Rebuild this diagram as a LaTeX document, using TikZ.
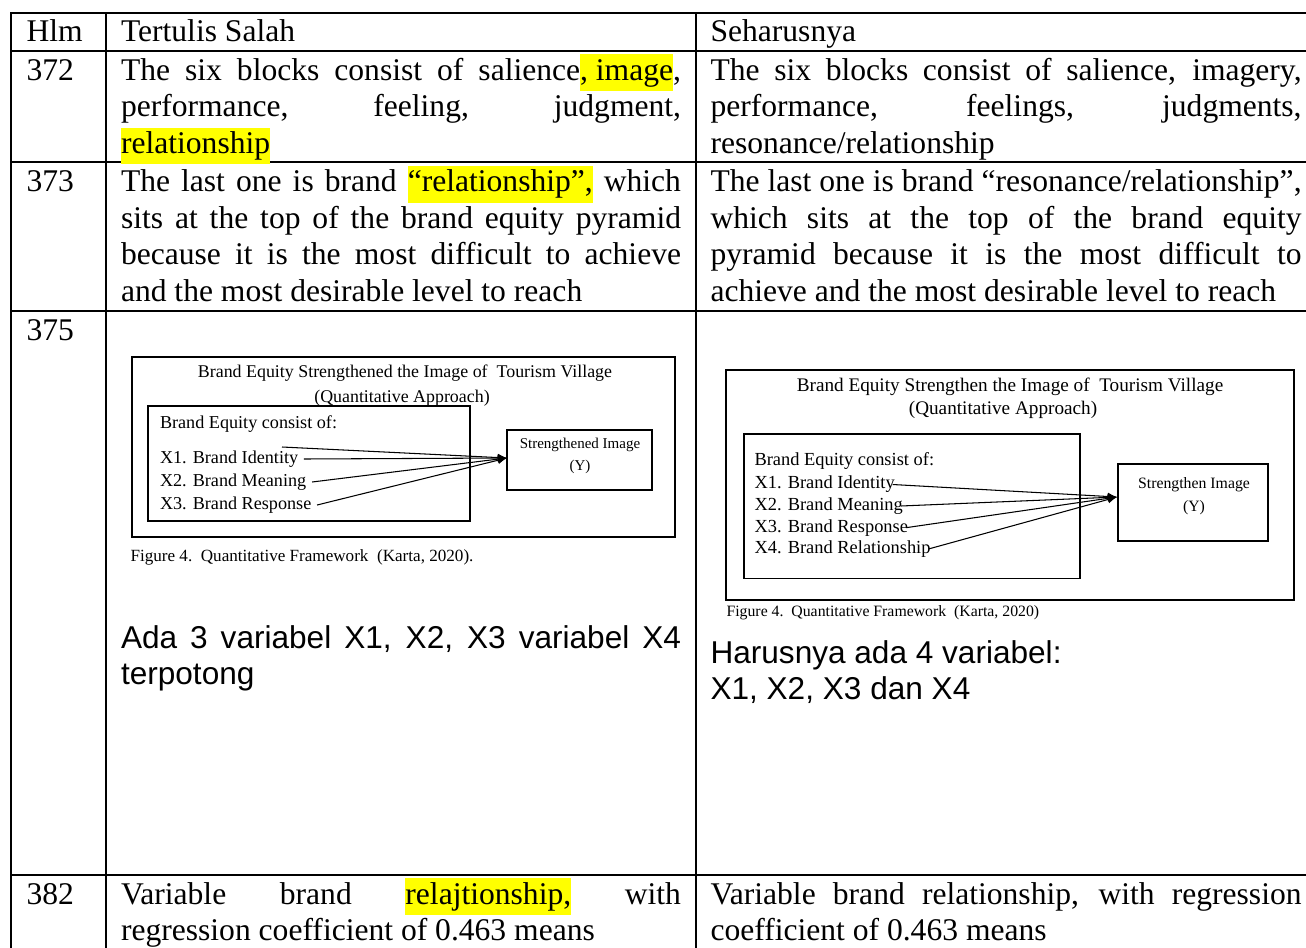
\documentclass[tikz,border=0pt]{standalone}
\usepackage{fontspec}
\setmainfont{Liberation Serif}
\setsansfont{Liberation Sans}
\usetikzlibrary{arrows.meta,positioning}

\definecolor{marker}{RGB}{255,255,0}
\newcommand{\hlt}[1]{{\setlength{\fboxsep}{0pt}\colorbox{marker}{\strut#1}}}
\hyphenpenalty=10000
\exhyphenpenalty=10000

\tikzset{
  rule/.style={line width=0.8pt, line cap=rect},
  cell/.style={anchor=base west, inner sep=0pt, font=\fontsize{12}{13.9}\selectfont},
  leftcol/.style={cell, text width=212.8pt, align=justify},
  rightcol/.style={cell, text width=224.6pt, align=justify},
  boxline/.style={line width=0.75pt},
  figtxt/.style={inner sep=0pt},
  link/.style={line width=0.4pt, -{Latex[length=3.5pt,width=3pt]}},
}

\begin{document}
\begin{tikzpicture}[x=0.38pt,y=-0.38pt]
\useasboundingbox (0,0) rectangle (1306,947);

% table rules
\foreach \y in {13,51,162,311,875}
  \draw[rule] (11,\y) -- (1306,\y);
\foreach \x in {11,106,696}
  \draw[rule] (\x,13) -- (\x,947);

% header
\node[cell] (hlm) at (26,41.7) {Hlm};
\node[cell] (salah) at (120.5,41.7) {Tertulis Salah};
\node[cell] (benar) at (710,41.7) {Seharusnya};

% page 372
\node[cell] (p372) at (26,80) {372};
\node[leftcol] (s372) at (120.5,80) {The six blocks consist of salience\hlt{, image},\linebreak performance, feeling, judgment,\linebreak \hlt{relationship}};
\node[rightcol] (b372) at (710,80) {The six blocks consist of salience, imagery,\linebreak performance, feelings, judgments,\linebreak resonance/relationship};

% page 373
\node[cell] (p373) at (26,191.7) {373};
\node[leftcol] (s373) at (120.5,191.7) {The last one is brand \hlt{“relationship”,} which\linebreak sits at the top of the brand equity pyramid\linebreak because it is the most difficult to achieve\linebreak and the most desirable level to reach};
\node[rightcol] (b373) at (710,191.7) {The last one is brand “resonance/relationship”,\linebreak which sits at the top of the brand equity\linebreak pyramid because it is the most difficult to\linebreak achieve and the most desirable level to reach};

% page 375
\node[cell] (p375) at (26,340) {375};

% figure as printed
\draw[boxline] (132,357) rectangle (675,537);
\node[figtxt, font=\fontsize{6.8}{8}\selectfont] (ltitle) at (405,373.4) {Brand Equity Strengthened the Image of\ \ Tourism Village};
\node[figtxt, font=\fontsize{6.8}{8}\selectfont] (lsub) at (402,398.5) {(Quantitative Approach)};
\draw[boxline] (148,406) rectangle (470,521);
\node[figtxt, anchor=west, font=\fontsize{6.9}{8}\selectfont] (lhead) at (159.5,423.7) {Brand Equity consist of:};
\node[figtxt, anchor=west, font=\fontsize{6.9}{8}\selectfont] (lx1) at (159.5,459) {X1. Brand Identity};
\node[figtxt, anchor=west, font=\fontsize{6.9}{8}\selectfont] (lx2) at (159.5,482) {X2. Brand Meaning};
\node[figtxt, anchor=west, font=\fontsize{6.9}{8}\selectfont] (lx3) at (159.5,505) {X3. Brand Response};
\draw[boxline] (507,430) rectangle (652,490);
\node[figtxt, font=\fontsize{5.7}{7}\selectfont] (limg) at (580,445) {Strengthened Image};
\node[figtxt, font=\fontsize{5.7}{7}\selectfont] (ly) at (580,467) {(Y)};
\coordinate (ltip) at (507,458);
\coordinate (lcut) at (282,447);
\draw[link] (lcut) -- (ltip);
\foreach \n in {lx1,lx2,lx3}
  \draw[link] ([xshift=2pt]\n.east) -- (ltip);
\node[figtxt, anchor=west, font=\fontsize{6.5}{8}\selectfont] (lcap) at (130,557) {Figure 4.\ \ Quantitative Framework\ \ (Karta, 2020).};

\node[leftcol, font=\sffamily\fontsize{12}{13.9}\selectfont] (s375) at (120.5,648) {Ada 3 variabel X1, X2, X3 variabel X4\linebreak terpotong};

% figure as it should be
\draw[boxline] (726,370) rectangle (1293.6,600);
\node[figtxt, font=\fontsize{7.3}{8}\selectfont] (rtitle) at (1010,386.6) {Brand Equity Strengthen the Image of\ \ Tourism Village};
\node[figtxt, font=\fontsize{7.3}{8}\selectfont] (rsub) at (1003,410) {(Quantitative Approach)};
\draw[boxline] (744,434) rectangle (1080,578.5);
\node[figtxt, anchor=west, font=\fontsize{7}{8}\selectfont] (rhead) at (754,461) {Brand Equity consist of:};
\node[figtxt, anchor=west, font=\fontsize{7}{8}\selectfont] (rx1) at (754,484.5) {X1. Brand Identity};
\node[figtxt, anchor=west, font=\fontsize{7}{8}\selectfont] (rx2) at (754,506) {X2. Brand Meaning};
\node[figtxt, anchor=west, font=\fontsize{7}{8}\selectfont] (rx3) at (754,527.7) {X3. Brand Response};
\node[figtxt, anchor=west, font=\fontsize{7}{8}\selectfont] (rx4) at (754,549) {X4. Brand Relationship};
\draw[boxline] (1118,463.6) rectangle (1268,541);
\node[figtxt, font=\fontsize{6}{7}\selectfont] (rimg) at (1194,484.5) {Strengthen Image};
\node[figtxt, font=\fontsize{6}{7}\selectfont] (ry) at (1194,507.8) {(Y)};
\coordinate (rtip) at (1117,497);
\foreach \n in {rx1,rx2,rx3,rx4}
  \draw[link] ([xshift=-1pt]\n.east) -- (rtip);
\node[figtxt, anchor=west, font=\fontsize{6}{7}\selectfont] (rcap) at (726,613) {Figure 4.\ \ Quantitative Framework\ \ (Karta, 2020)};

\node[rightcol, font=\sffamily\fontsize{12}{13.9}\selectfont] (b375) at (710,663) {Harusnya ada 4 variabel:\\X1, X2, X3 dan X4};

% page 382
\node[cell] (p382) at (26,904) {382};
\node[leftcol] (s382) at (120.5,904) {Variable brand \hlt{relajtionship,} with\linebreak regression coefficient of 0.463 means};
\node[rightcol] (b382) at (710,904) {Variable brand relationship, with regression\linebreak coefficient of 0.463 means};
\end{tikzpicture}
\end{document}
